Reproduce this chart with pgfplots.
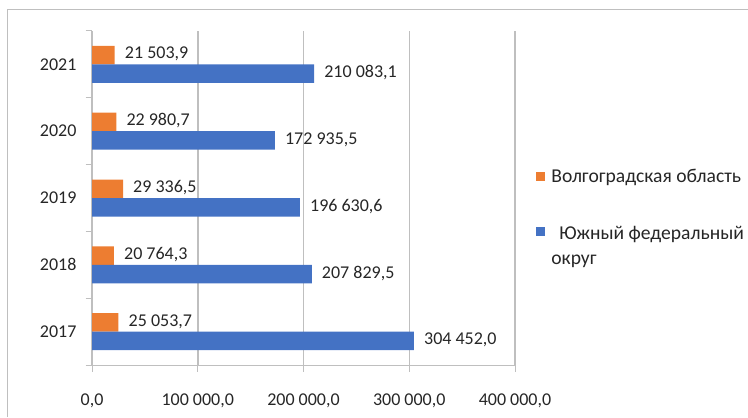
\documentclass[border=0pt]{standalone}
\usepackage{fontspec}
\setmainfont{Carlito}
\usepackage{pgfplots}
\pgfplotsset{compat=1.18}
\definecolor{cOr}{HTML}{ED7D31}
\definecolor{cBl}{HTML}{4472C4}
\definecolor{cGr}{HTML}{BFBFBF}
\definecolor{cTx}{HTML}{262626}
\begin{document}
\begin{tikzpicture}[x=1bp,y=1bp,font=\fontsize{18bp}{24bp}\selectfont]
\useasboundingbox (0,0) rectangle (748,417);
\draw[cGr, line width=1bp] (7,0) -- (7,407) -- (748,407);
\begin{axis}[
 at={(92bp,52bp)}, anchor=south west,
 scale only axis, width=423bp, height=334bp,
 xbar, bar width=18.5bp,
 xmin=0, xmax=400000, ymin=-0.5, ymax=4.5,
 /pgf/number format/assume math mode=true,
 scaled x ticks=false,
 xtick={0,100000,200000,300000,400000},
 minor xtick={0,100000,200000,300000,400000},
 xticklabel style={yshift=-25bp, text=cTx, /pgf/number format/fixed, /pgf/number format/fixed zerofill, /pgf/number format/precision=1, /pgf/number format/use comma, /pgf/number format/1000 sep={\ }},
 ytick={0,1,2,3,4},
 yticklabels={2017,2018,2019,2020,2021},
 minor ytick={-0.5,0.5,1.5,2.5,3.5,4.5},
 yticklabel style={xshift=-12bp, text=cTx},
 major tick length=0pt, minor tick length=6.5bp,
 tick align=outside,
 tick style={cGr, line width=1bp},
 minor tick style={cGr, line width=1bp},
 axis x line*=bottom, axis y line*=left,
 axis line style={cGr, line width=1bp, -},
 xmajorgrids, grid style={cGr, line width=1.5bp},
 point meta=x,
 nodes near coords={\pgfmathprintnumber[fixed,fixed zerofill,precision=1,use comma,1000 sep={\ }]{\pgfplotspointmeta}},
 nodes near coords style={anchor=west, inner sep=0pt, xshift=10bp, yshift=1bp, text=cTx},
 legend image code/.code={\fill[#1] (0bp,-4.5bp) rectangle (9bp,4.5bp);},
 legend cell align=left,
 legend style={at={(1.05,0.588)}, anchor=north west, draw=none, fill=none, inner sep=0pt, row sep=38bp, column sep=6bp, font=\fontsize{19.6bp}{25bp}\selectfont, nodes={inner sep=0pt, text=cTx}},
]
\addplot[fill=cOr, draw=none, bar shift=9.25bp] coordinates {(25053.7,0) (20764.3,1) (29336.5,2) (22980.7,3) (21503.9,4)};
\addplot[fill=cBl, draw=none, bar shift=-9.25bp] coordinates {(304452.0,0) (207829.5,1) (196630.6,2) (172935.5,3) (210083.1,4)};
\legend{Волгоградская область,{\begin{tabular}[t]{@{}l@{}}\hspace{8bp}Южный федеральный\\округ\end{tabular}}}
\end{axis}
\end{tikzpicture}
\end{document}
